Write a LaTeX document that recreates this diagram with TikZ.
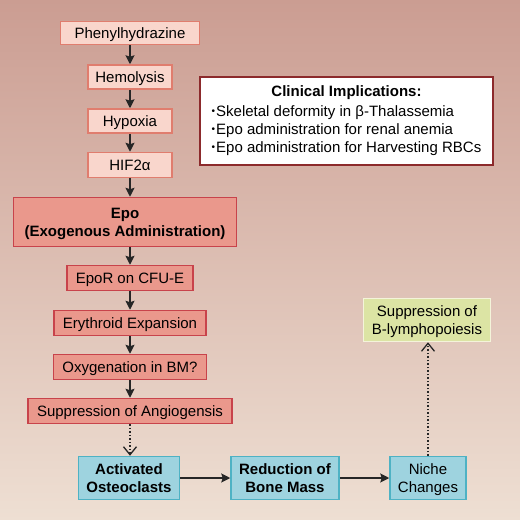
\documentclass[tikz,border=0pt]{standalone}
\usepackage{fontspec}
\setmainfont{Liberation Sans}
\usepackage{xcolor}
\usetikzlibrary{arrows.meta, shapes, positioning, calc}
\definecolor{bgtop}{HTML}{CB9D92}
\definecolor{bgbot}{HTML}{EEDFD3}
\definecolor{palefill}{HTML}{F9D6CC}
\definecolor{paleline}{HTML}{E07D6E}
\definecolor{redfill}{HTML}{EA988C}
\definecolor{redline}{HTML}{C8434B}
\definecolor{bluefill}{HTML}{9ED3DF}
\definecolor{blueline}{HTML}{4EB2C4}
\definecolor{greenfill}{HTML}{DCE4A4}
\definecolor{greenline}{HTML}{F4F4DA}
\definecolor{clinline}{HTML}{8C2A2C}
\newcommand{\dotitem}{\raisebox{1.8pt}{\fontsize{10}{10}\selectfont•}\hspace{1pt}}

\begin{document}
\begin{tikzpicture}[x=1pt,y=-1pt,
    font=\fontsize{15}{18}\selectfont,
    sz/.style 2 args={minimum width=#1pt,minimum height=#2pt,inner sep=0pt},
    one/.style={text height=11pt,text depth=1pt},
    two/.style={align=center,text depth=0pt},
    palebox/.style={draw=paleline,fill=palefill,line width=1.5pt,one},
    redbox/.style={draw=redline,fill=redfill,line width=1.5pt},
    bluebox/.style={draw=blueline,fill=bluefill,line width=1.5pt,two},
    greenbox/.style={draw=greenline,fill=greenfill,line width=1.5pt,two},
    flow/.style={-{Stealth[length=9pt,width=9pt,inset=1.5pt]},line width=1.5pt,draw=black!85},
    maybe/.style={dotted,-{Straight Barb[length=8pt,width=13pt,line width=1.3pt]},line width=1.5pt,draw=black!85}]
    \shade[top color=bgtop,bottom color=bgbot] (0,0) rectangle (520,520);
    \node[palebox,sz={139}{23}] (phen) at (130,33) {Phenylhydrazine};
    \node[palebox,sz={84}{24}] (hemo) at (130,77) {Hemolysis};
    \node[palebox,sz={84}{24}] (hypo) at (130,121) {Hypoxia};
    \node[palebox,sz={84}{25}] (hif) at (130,165) {HIF2α};
    \node[redbox,two,sz={223}{49}] (epo) at (125,222) {\textbf{Epo}\\\textbf{(Exogenous Administration)}};
    \node[redbox,one,sz={126}{25}] (epor) at (130,278) {EpoR on CFU-E};
    \node[redbox,one,sz={152}{25}] (eryth) at (130,323) {Erythroid Expansion};
    \node[redbox,one,sz={153}{25}] (oxy) at (130,367) {Oxygenation in BM?};
    \node[redbox,one,sz={204}{25}] (angio) at (130,411) {Suppression of Angiogensis};
    \node[bluebox,sz={101}{43}] (osteo) at (129,478) {\textbf{Activated}\\\textbf{Osteoclasts}};
    \node[bluebox,sz={108}{43}] (mass) at (285,478) {\textbf{Reduction of}\\\textbf{Bone Mass}};
    \node[bluebox,sz={76}{43}] (niche) at (428,478) {Niche\\Changes};
    \node[greenbox,sz={127}{43}] (blymph) at (427,320) {Suppression of\\B-lymphopoiesis};
    \node[draw=clinline,fill=white,line width=2pt,sz={293}{88}] (clin) at (346.5,121)
      {\begin{tabular}{@{}l@{}}
        \multicolumn{1}{@{}c@{}}{\textbf{Clinical Implications:}}\\[2pt]
        \dotitem Skeletal deformity in β-Thalassemia\\
        \dotitem Epo administration for renal anemia\\
        \dotitem Epo administration for Harvesting RBCs
      \end{tabular}};
    \draw[flow] (phen) -- (hemo);
    \draw[flow] (hemo) -- (hypo);
    \draw[flow] (hypo) -- (hif);
    \draw[flow] (hif.south) -- (hif.south |- epo.north);
    \draw[flow] (epor.north |- epo.south) -- (epor.north);
    \draw[flow] (epor) -- (eryth);
    \draw[flow] (eryth) -- (oxy);
    \draw[flow] (oxy) -- (angio);
    \draw[maybe] (angio.south) -- (angio.south |- osteo.north);
    \draw[flow] (osteo) -- (mass);
    \draw[flow] (mass) -- (niche);
    \draw[maybe] (niche.north) -- (niche.north |- blymph.south);
\end{tikzpicture}
\end{document}
